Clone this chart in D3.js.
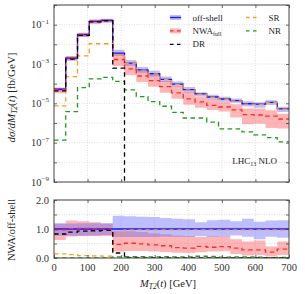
<!DOCTYPE html>
<html>
<head>
<meta charset="utf-8">
<script src="https://cdn.jsdelivr.net/npm/d3@7"></script>
<style>
  body { margin: 0; background: #fff; }
  svg { display: block; }
</style>
</head>
<body>
<svg id="chart" width="305" height="294"></svg>
<script>
// bin edges in GeV (20 bins of 35 GeV)
const binEdges = [0, 35, 70, 105, 140, 175, 210, 245, 280, 315, 350, 385, 420, 455, 490, 525, 560, 595, 630, 665, 700];

// dσ/dM_T2 [fb/GeV], one value per bin
const offShell = [5.2e-5, 2.0e-3, 3.1e-2, 0.148, 0.166, 3.6e-3, 1.12e-3, 5.0e-4, 3.2e-4, 1.66e-4,
                  9.5e-5, 5.0e-5, 3.0e-5, 2.1e-5, 1.66e-5, 1.38e-5, 9.5e-6, 9.1e-6, 1.12e-5, 5.2e-6];
const nwaFull  = [5.04e-5, 2.02e-3, 3.16e-2, 0.149, 0.164, 1.69e-3, 5.7e-4, 2.45e-4, 1.44e-4, 7.0e-5,
                  3.4e-5, 1.7e-5, 1.2e-5, 7.8e-6, 6.5e-6, 4.7e-6, 2.66e-6, 2.55e-6, 2.24e-6, 1.6e-6];
const drVals   = [4.3e-5, 1.78e-3, 2.88e-2, 0.139, 0.158, 6.2e-4, 0, 0, 0, 0,
                  0, 0, 0, 0, 0, 0, 0, 0, 0, 0];
const srVals   = [7.4e-6, 2.3e-4, 2.6e-3, 1.07e-2, 1.07e-2, 3.0e-3, 1.09e-3, 4.85e-4, 3.1e-4, 1.61e-4,
                  9.2e-5, 4.85e-5, 2.9e-5, 2.04e-5, 1.61e-5, 1.34e-5, 9.2e-6, 8.8e-6, 1.09e-5, 5.0e-6];
const nrVals   = [1.35e-7, 3.8e-6, 6.3e-5, 1.74e-4, 2.1e-4, 1.3e-4, 4.8e-5, 2.2e-5, 1.23e-5, 7.1e-6,
                  3.5e-6, 1.8e-6, 1.8e-6, 1.1e-6, 5.0e-7, 5.0e-7, 3.5e-7, 2.5e-7, 1.8e-7, 1.1e-7];

// scale-uncertainty bands, relative to the off-shell central value
const offBandLo = [0.77, 0.77, 0.77, 0.78, 0.79, 0.72, 0.72, 0.72, 0.72, 0.73,
                   0.73, 0.72, 0.75, 0.72, 0.74, 0.78, 0.73, 0.65, 0.73, 0.70];
const offBandHi = [1.20, 1.19, 1.20, 1.20, 1.21, 1.46, 1.44, 1.42, 1.41, 1.38,
                   1.35, 1.34, 1.23, 1.30, 1.32, 1.27, 1.35, 1.25, 1.29, 1.30];
const nwaBandLo = [0.62, 0.74, 0.76, 0.76, 0.76, 0.22, 0.24, 0.24, 0.22, 0.21,
                   0.18, 0.17, 0.20, 0.22, 0.23, 0.14, 0.09, 0.10, 0.05, 0.10];
const nwaBandHi = [1.18, 1.29, 1.27, 1.23, 1.17, 0.92, 0.92, 0.90, 0.85, 0.82,
                   0.78, 0.75, 0.72, 0.74, 0.75, 0.65, 0.57, 0.60, 0.40, 0.57];

const xTicks = [0, 100, 200, 300, 400, 500, 600, 700];
const topExps = [0, -1, -2, -3, -4, -5, -6, -7, -8, -9];
const topLabelExps = [-1, -3, -5, -7, -9];
const ratioTicks = [0, 0.5, 1, 1.5, 2];
const ratioLabels = [0, 1, 2];

const FONT = "'Liberation Serif', 'DejaVu Serif', serif";
const L = 54, R = 289;
const TOP = { y0: 5, y1: 182 };
const BOT = { y0: 200, y1: 258 };

const svg = d3.select("#chart");
const x = d3.scaleLinear().domain([0, 700]).range([L, R]);
const yTop = d3.scaleLog().domain([1e-9, 1]).range([TOP.y1, TOP.y0]);
const yBot = d3.scaleLinear().domain([0, 2]).range([BOT.y1, BOT.y0]);

const defs = svg.append("defs");
[["clip-top", TOP], ["clip-bot", BOT]].forEach(([id, p]) =>
  defs.append("clipPath").attr("id", id)
    .append("rect").attr("x", L).attr("y", p.y0).attr("width", R - L).attr("height", p.y1 - p.y0)
);

// step data: one point per bin start plus the closing edge
const steps = vals => binEdges.map((e, i) => ({ x: e, v: vals[Math.min(i, vals.length - 1)] }));
const bandSteps = (lo, hi) => binEdges.map((e, i) => {
  const k = Math.min(i, lo.length - 1);
  return { x: e, lo: lo[k], hi: hi[k] };
});

const COL = {
  off: "#1414ff", nwa: "#ff2a2a", dr: "#000000", sr: "#ff9a1a", nr: "#1f9a1f",
  offBand: "rgba(100,100,255,0.42)", nwaBand: "rgba(255,90,90,0.45)"
};
const DASH = "4.5,3.5";

function grid(g, yScale, yVals, p) {
  xTicks.slice(1, -1).forEach(t =>
    g.append("line").attr("x1", x(t)).attr("x2", x(t)).attr("y1", p.y0).attr("y2", p.y1)
      .attr("stroke", "#c8c8c8").attr("stroke-width", 0.6).attr("stroke-dasharray", "1,1.5"));
  yVals.forEach(v =>
    g.append("line").attr("x1", L).attr("x2", R).attr("y1", yScale(v)).attr("y2", yScale(v))
      .attr("stroke", "#c8c8c8").attr("stroke-width", 0.6).attr("stroke-dasharray", "1,1.5"));
}

function frame(g, yScale, yVals, p) {
  g.append("g").attr("transform", `translate(${L},0)`)
    .call(d3.axisLeft(yScale).tickValues(yVals).tickSizeInner(-3).tickSizeOuter(0).tickFormat(""));
  g.append("g").attr("transform", `translate(${R},0)`)
    .call(d3.axisRight(yScale).tickValues(yVals).tickSizeInner(-3).tickSizeOuter(0).tickFormat(""));
  g.append("g").attr("transform", `translate(0,${p.y1})`)
    .call(d3.axisBottom(x).tickValues(xTicks).tickSizeInner(-3).tickSizeOuter(0).tickFormat(""));
  g.append("g").attr("transform", `translate(0,${p.y0})`)
    .call(d3.axisTop(x).tickValues(xTicks).tickSizeInner(-3).tickSizeOuter(0).tickFormat(""));
  g.selectAll(".domain").remove();
  g.selectAll(".tick line").attr("stroke", "#444").attr("stroke-width", 0.8);
  g.append("rect").attr("x", L).attr("y", p.y0).attr("width", R - L).attr("height", p.y1 - p.y0)
    .attr("fill", "none").attr("stroke", "#444").attr("stroke-width", 1);
}

// ---------- top panel ----------
const topG = svg.append("g");
grid(topG, yTop, topExps.map(e => Math.pow(10, e)), TOP);

const yT = v => v > 0 ? yTop(v) : TOP.y1 + 60;
const plotTop = topG.append("g").attr("clip-path", "url(#clip-top)");

const areaTop = d3.area().curve(d3.curveStepAfter)
  .x(d => x(d.x)).y0(d => yT(d.base * d.lo)).y1(d => yT(d.base * d.hi));
const withBase = (lo, hi) => bandSteps(lo, hi).map((d, i) => ({ ...d, base: offShell[Math.min(i, offShell.length - 1)] }));

plotTop.append("path").datum(withBase(nwaBandLo, nwaBandHi)).attr("d", areaTop).attr("fill", COL.nwaBand);
plotTop.append("path").datum(withBase(offBandLo, offBandHi)).attr("d", areaTop).attr("fill", COL.offBand);

const lineTop = d3.line().curve(d3.curveStepAfter).x(d => x(d.x)).y(d => yT(d.v));
const series = [
  { vals: offShell, col: COL.off, dash: null },
  { vals: srVals, col: COL.sr, dash: DASH },
  { vals: nrVals, col: COL.nr, dash: DASH },
  { vals: nwaFull, col: COL.nwa, dash: DASH },
  { vals: drVals, col: COL.dr, dash: DASH },
];
series.forEach(s =>
  plotTop.append("path").datum(steps(s.vals)).attr("d", lineTop)
    .attr("fill", "none").attr("stroke", s.col).attr("stroke-width", 1.3)
    .attr("stroke-dasharray", s.dash));

frame(topG, yTop, topExps.map(e => Math.pow(10, e)), TOP);

topLabelExps.forEach(e => {
  const t = topG.append("text").attr("x", L - 5).attr("y", yTop(Math.pow(10, e)) + 3.5)
    .attr("text-anchor", "end").attr("font-family", FONT).attr("font-size", 10.5).attr("fill", "#333");
  t.append("tspan").text("10");
  t.append("tspan").attr("dy", -4.5).attr("font-size", 7).text("\u2212" + Math.abs(e));
});

// y label
const yl = topG.append("text").attr("transform", `translate(15,${(TOP.y0 + TOP.y1) / 2 + 4}) rotate(-90)`)
  .attr("text-anchor", "middle").attr("font-family", FONT).attr("font-size", 11).attr("fill", "#222");
yl.append("tspan").attr("font-style", "italic").text("dσ/dM");
yl.append("tspan").attr("font-style", "italic").attr("font-size", 7.5).attr("dy", 2).text("T2");
yl.append("tspan").attr("dy", -2).text("(");
yl.append("tspan").attr("font-style", "italic").text("t");
yl.append("tspan").text(") [fb/GeV]");

// LHC label
const lhc = topG.append("text").attr("x", 277).attr("y", 164).attr("text-anchor", "end")
  .attr("font-family", FONT).attr("font-size", 9).attr("fill", "#222");
lhc.append("tspan").text("LHC");
lhc.append("tspan").attr("font-size", 6).attr("dy", 2).text("13");
lhc.append("tspan").attr("dy", -2).text(" NLO");

// legend
const legend = [
  { label: "off-shell", col: COL.off, dash: null, band: COL.offBand, x: 170, row: 0 },
  { label: "NWA", sub: "full", col: COL.nwa, dash: DASH, band: COL.nwaBand, x: 170, row: 1 },
  { label: "DR", col: COL.dr, dash: DASH, band: null, x: 170, row: 2 },
  { label: "SR", col: COL.sr, dash: DASH, band: null, x: 246, row: 0 },
  { label: "NR", col: COL.nr, dash: DASH, band: null, x: 246, row: 1 },
];
legend.forEach(d => {
  const cy = 17.5 + d.row * 13.4;
  if (d.band) topG.append("rect").attr("x", d.x).attr("y", cy - 2.5).attr("width", 11).attr("height", 5).attr("fill", d.band);
  topG.append("line").attr("x1", d.x).attr("x2", d.x + 11).attr("y1", cy).attr("y2", cy)
    .attr("stroke", d.col).attr("stroke-width", 1.3).attr("stroke-dasharray", d.dash ? "3.5,3.5" : null);
  const t = topG.append("text").attr("x", d.x + 22.5).attr("y", cy + 3)
    .attr("font-family", FONT).attr("font-size", 9).attr("fill", "#222");
  t.append("tspan").text(d.label);
  if (d.sub) t.append("tspan").attr("font-size", 6).attr("dy", 2).text(d.sub);
});

// ---------- ratio panel ----------
const botG = svg.append("g");
grid(botG, yBot, ratioTicks, BOT);
const plotBot = botG.append("g").attr("clip-path", "url(#clip-bot)");

const areaBot = d3.area().curve(d3.curveStepAfter).x(d => x(d.x)).y0(d => yBot(d.lo)).y1(d => yBot(d.hi));
plotBot.append("path").datum(bandSteps(nwaBandLo, nwaBandHi)).attr("d", areaBot).attr("fill", COL.nwaBand);
plotBot.append("path").datum(bandSteps(offBandLo, offBandHi)).attr("d", areaBot).attr("fill", COL.offBand);

const lineBot = d3.line().curve(d3.curveStepAfter).x(d => x(d.x)).y(d => yBot(d.v));
series.forEach(s => {
  const ratio = s.vals.map((v, i) => v / offShell[i]);
  plotBot.append("path").datum(steps(ratio)).attr("d", lineBot)
    .attr("fill", "none").attr("stroke", s.col).attr("stroke-width", 1.3)
    .attr("stroke-dasharray", s.dash);
});

frame(botG, yBot, ratioTicks, BOT);

ratioLabels.forEach(v =>
  botG.append("text").attr("x", L - 5).attr("y", yBot(v) + 3.5).attr("text-anchor", "end")
    .attr("font-family", FONT).attr("font-size", 10.5).attr("fill", "#333").text(v.toFixed(1)));
xTicks.forEach(v =>
  botG.append("text").attr("x", x(v)).attr("y", BOT.y1 + 13).attr("text-anchor", "middle")
    .attr("font-family", FONT).attr("font-size", 10.5).attr("fill", "#333").text(v));

botG.append("text").attr("transform", `translate(15,${(BOT.y0 + BOT.y1) / 2 + 1}) rotate(-90)`)
  .attr("text-anchor", "middle").attr("font-family", FONT).attr("font-size", 10.5).attr("fill", "#222")
  .text("NWA/off-shell");

const xl = botG.append("text").attr("x", 168).attr("y", 287).attr("text-anchor", "middle")
  .attr("font-family", FONT).attr("font-size", 10.5).attr("fill", "#222");
xl.append("tspan").attr("font-style", "italic").text("M");
xl.append("tspan").attr("font-style", "italic").attr("font-size", 7.5).attr("dy", 2).text("T2");
xl.append("tspan").attr("dy", -2).text("(");
xl.append("tspan").attr("font-style", "italic").text("t");
xl.append("tspan").text(") [GeV]");
</script>
</body>
</html>
